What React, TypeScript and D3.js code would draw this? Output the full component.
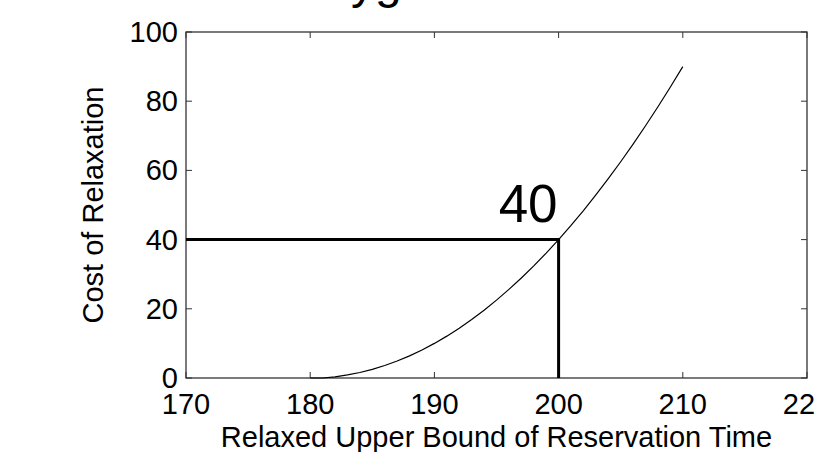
import { useEffect, useRef } from 'react';
import { select, scaleLinear, line } from 'd3';

// data
const relaxedBound = [180, 181, 182, 183, 184, 185, 186, 187, 188, 189, 190, 191, 192, 193, 194, 195, 196, 197, 198, 199, 200, 201, 202, 203, 204, 205, 206, 207, 208, 209, 210];
const relaxCost = [0, 0, 0.3, 0.9, 1.6, 2.5, 3.6, 4.9, 6.4, 8.1, 10, 12.1, 14.4, 16.9, 19.6, 22.5, 25.6, 28.9, 32.4, 36.1, 40, 44.1, 48.4, 52.9, 57.6, 62.5, 67.6, 72.9, 78.4, 84.1, 90];
const xTicks = [170, 180, 190, 200, 210, 220];
const yTicks = [0, 20, 40, 60, 80, 100];
const markX = 200;
const markY = 40;

const FONT = "'Liberation Sans', Arial, Helvetica, sans-serif";

const render = (el: SVGSVGElement) => {
  const svg = select(el);
  svg.selectAll('*').remove();

  const box = { left: 186, right: 807, top: 32, bottom: 378 };
  const xScale = scaleLinear().domain([170, 220]).range([box.left, box.right]);
  const yScale = scaleLinear().domain([0, 100]).range([box.bottom, box.top]);

  // clipped title fragment at the top
  svg
    .append('text')
    .attr('x', 351)
    .attr('y', -2)
    .attr('font-family', FONT)
    .attr('font-size', 48)
    .text('yg');

  const g = svg.append('g');

  // box
  g.append('rect')
    .attr('x', box.left)
    .attr('y', box.top)
    .attr('width', box.right - box.left)
    .attr('height', box.bottom - box.top)
    .attr('fill', 'none')
    .attr('stroke', '#333')
    .attr('stroke-width', 1.3);

  // ticks inside, all four sides
  const tl = 6;
  xTicks.forEach((t) => {
    const x = xScale(t);
    g.append('line').attr('x1', x).attr('x2', x).attr('y1', box.bottom).attr('y2', box.bottom - tl).attr('stroke', '#333');
    g.append('line').attr('x1', x).attr('x2', x).attr('y1', box.top).attr('y2', box.top + tl).attr('stroke', '#333');
    g.append('text')
      .attr('x', x)
      .attr('y', 414)
      .attr('text-anchor', 'middle')
      .attr('font-family', FONT)
      .attr('font-size', 29)
      .text(t);
  });
  yTicks.forEach((t) => {
    const y = yScale(t);
    g.append('line').attr('x1', box.left).attr('x2', box.left + tl).attr('y1', y).attr('y2', y).attr('stroke', '#333');
    g.append('line').attr('x1', box.right).attr('x2', box.right - tl).attr('y1', y).attr('y2', y).attr('stroke', '#333');
    g.append('text')
      .attr('x', 178)
      .attr('y', y + 10)
      .attr('text-anchor', 'end')
      .attr('font-family', FONT)
      .attr('font-size', 29)
      .text(t);
  });

  // axis labels
  g.append('text')
    .attr('x', (box.left + box.right) / 2)
    .attr('y', 447)
    .attr('text-anchor', 'middle')
    .attr('font-family', FONT)
    .attr('font-size', 29)
    .text('Relaxed Upper Bound of Reservation Time');
  g.append('text')
    .attr('transform', `translate(103, ${(box.top + box.bottom) / 2}) rotate(-90)`)
    .attr('text-anchor', 'middle')
    .attr('font-family', FONT)
    .attr('font-size', 29)
    .text('Cost of Relaxation');

  // curve
  const pts = relaxedBound.map((x, i) => [x, relaxCost[i]] as [number, number]);
  const path = line<[number, number]>()
    .x((d) => xScale(d[0]))
    .y((d) => yScale(d[1]));
  g.append('path')
    .attr('d', path(pts))
    .attr('fill', 'none')
    .attr('stroke', '#000')
    .attr('stroke-width', 1.2);

  // marker lines
  g.append('path')
    .attr('d', `M${xScale(170)},${yScale(markY)}H${xScale(markX)}V${yScale(0)}`)
    .attr('fill', 'none')
    .attr('stroke', '#000')
    .attr('stroke-width', 3);

  g.append('text')
    .attr('x', xScale(markX) - 1)
    .attr('y', 222)
    .attr('text-anchor', 'end')
    .attr('font-family', FONT)
    .attr('font-size', 53)
    .text(markY);
};

export default function App() {
  const ref = useRef<SVGSVGElement>(null);
  useEffect(() => {
    if (ref.current) render(ref.current);
  }, []);
  return (
    <svg
      ref={ref}
      width={815}
      height={452}
      style={{ position: 'absolute', left: 0, top: 0, background: '#fff' }}
    />
  );
}
